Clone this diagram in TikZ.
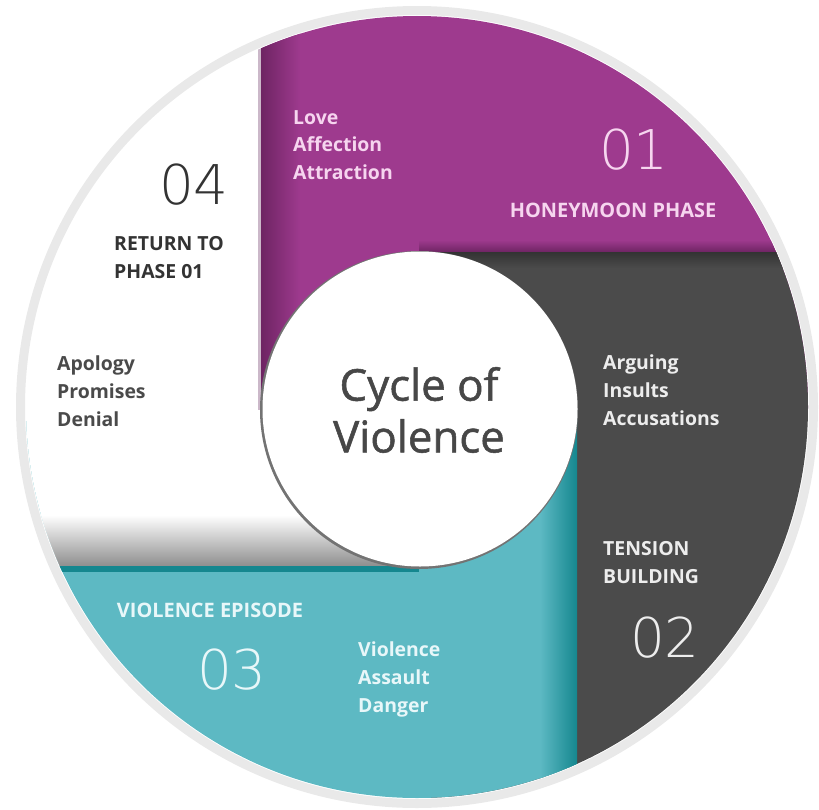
\documentclass[tikz,border=0pt]{standalone}
\usepackage{fontspec}
\setmainfont{Open Sans}
\newfontfamily\numfont{DejaVu Sans ExtraLight}
\newfontfamily\titlefont{Open Sans}[FakeBold=1.2]
\definecolor{ringgray}{HTML}{E9E9E9}
\definecolor{phaseone}{HTML}{9E3A8E}
\definecolor{phaseonedark}{HTML}{6E2463}
\definecolor{lavender}{HTML}{CBB8C9}
\definecolor{phasetwo}{HTML}{4B4B4B}
\definecolor{phasethree}{HTML}{5DB9C3}
\definecolor{phasethreedark}{HTML}{15878F}
\definecolor{pinktext}{HTML}{F6D5EF}
\definecolor{darktext}{HTML}{333333}
\definecolor{greytext}{HTML}{4A4A4A}
\definecolor{titletext}{HTML}{474747}
\definecolor{lighttext}{HTML}{EDEDED}
\definecolor{tealtext}{HTML}{E8F7F9}
\begin{document}
\begin{tikzpicture}[x=1bp,y=-1bp,
    itemtext/.style={font=\bfseries\fontsize{19.5}{28}\selectfont,align=left,anchor=north west,inner sep=0pt},
    numtext/.style={font=\numfont\fontsize{55}{55}\selectfont,inner sep=0pt},
    phasetitle/.style={font=\bfseries\fontsize{20}{27}\selectfont,align=left,inner sep=0pt}]
\useasboundingbox (0,0) rectangle (819,810);
\coordinate (o) at (417,407);
\coordinate (c) at (419,410);
\draw [ringgray,line width=9bp] (o) circle (396.5);
\begin{scope}
    \clip (o) circle (391);
    \fill [white] (0,0) rectangle (819,810);
    \fill [phaseone] (261,0) rectangle (819,410);
    \shade [left color=phaseonedark,right color=phaseone] (261,0) rectangle (300,410);
    \fill [lavender] (258,0) rectangle (261,410);
    \shade [top color=phaseone,bottom color=phaseonedark] (419,240) rectangle (819,252);
    \fill [phasetwo] (419,252) rectangle (819,810);
    \shade [top color=black!80,bottom color=phasetwo] (419,252) rectangle (819,268);
    \fill [phasethree] (0,410) rectangle (577,810);
    \shade [left color=phasethree,right color=phasethreedark] (540,410) rectangle (577,810);
    \fill [white] (0,410) rectangle (419,567);
    \shade [top color=white,bottom color=black!45] (0,515) rectangle (419,567);
    \fill [phasethreedark] (0,566) rectangle (419,572);
\end{scope}
\fill [black!55] (c) circle (159);
\fill [white] (420,409) circle (157.5);
\node [itemtext,text=pinktext] (love) at (293,110) {Love\\Affection\\Attraction};
\node [numtext,text=pinktext] (one) at (634,150) {01};
\node [phasetitle,text=pinktext] (honeymoon) at (613,210) {HONEYMOON PHASE};
\node [numtext,text=darktext] (four) at (194,185) {04};
\node [itemtext,text=darktext] (return) at (114,236) {RETURN TO\\PHASE 01};
\node [itemtext,text=greytext] (apology) at (57,356) {Apology\\Promises\\Denial};
\node [font=\titlefont\fontsize{44}{52}\selectfont,align=center,text=titletext] (title) at (c) {Cycle of\\Violence};
\node [itemtext,text=lighttext] (arguing) at (603,355) {Arguing\\Insults\\Accusations};
\node [itemtext,text=lighttext] (tension) at (603,541) {TENSION\\BUILDING};
\node [numtext,text=lighttext] (two) at (665,638) {02};
\node [phasetitle,text=tealtext] (episode) at (210,610) {VIOLENCE EPISODE};
\node [numtext,text=tealtext] (three) at (232,670) {03};
\node [itemtext,text=tealtext] (violence) at (358,642) {Violence\\Assault\\Danger};
\end{tikzpicture}
\end{document}
